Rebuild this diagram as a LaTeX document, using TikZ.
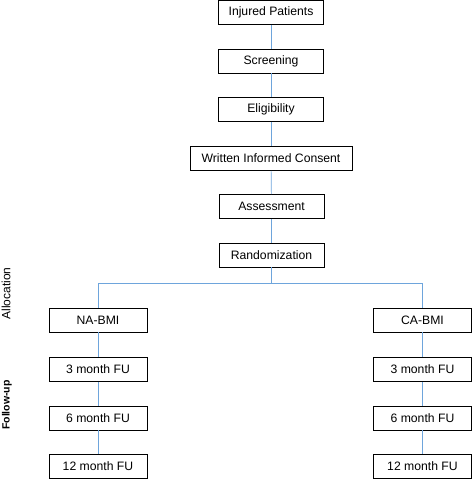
\documentclass[tikz,border=0pt]{standalone}
\usepackage{fontspec}
\setmainfont{Liberation Sans}
\usetikzlibrary{positioning,calc}
\definecolor{linkblue}{RGB}{110,165,220}

\begin{document}
\begin{tikzpicture}[x=1pt,y=-1pt,
	box/.style={draw,line width=0.9pt,minimum height=24pt,inner sep=0pt,font=\fontsize{12.2}{14}\selectfont},
	link/.style={draw=linkblue,line width=0.7pt}]
	\useasboundingbox (0,0) rectangle (472,479);
	
	% screening chain
	\node[box,minimum width=105pt] (injured) at (271,12.5) {Injured Patients};
	\node[box,minimum width=105pt] (screen) at (271,61) {Screening};
	\node[box,minimum width=105pt] (elig) at (271,109.5) {Eligibility};
	\node[box,minimum width=162pt] (consent) at (271,158.5) {Written Informed Consent};
	\node[box,minimum width=105pt] (assess) at (271.5,206.5) {Assessment};
	\node[box,minimum width=105pt] (rand) at (271.5,255) {Randomization};
	
	\draw[link] (injured)--(screen);
	\draw[link] (screen)--(elig);
	\draw[link] (elig)--(consent);
	\draw[link] (consent)--(assess);
	\draw[link] (assess)--(rand);
	
	% split into the two arms
	\coordinate (split) at (271.5,283);
	\node[box,minimum width=98pt] (na) at (98,320) {NA-BMI};
	\node[box,minimum width=98pt] (ca) at (422.5,320) {CA-BMI};
	
	\draw[link] (rand)--(split);
	\draw[link] (split)-|(na);
	\draw[link] (split)-|(ca);
	
	% follow-up, left arm
	\node[box,minimum width=98pt] (na3) at (98,369.5) {3 month FU};
	\node[box,minimum width=98pt] (na6) at (98,418) {6 month FU};
	\node[box,minimum width=98pt] (na12) at (98,466) {12 month FU};
	
	\draw[link] (na)--(na3);
	\draw[link] (na3)--(na6);
	\draw[link] (na6)--(na12);
	
	% follow-up, right arm
	\node[box,minimum width=98pt] (ca3) at (422.5,369.5) {3 month FU};
	\node[box,minimum width=98pt] (ca6) at (422.5,418) {6 month FU};
	\node[box,minimum width=98pt] (ca12) at (422.5,466) {12 month FU};
	
	\draw[link] (ca)--(ca3);
	\draw[link] (ca3)--(ca6);
	\draw[link] (ca6)--(ca12);
	
	% side labels
	\node[rotate=90,font=\fontsize{12}{14}\selectfont] (alloc) at (6,293.5) {Allocation};
	\node[rotate=90,font=\fontsize{10.5}{12}\selectfont\bfseries] (follow) at (7,405) {Follow-up};
\end{tikzpicture}
\end{document}
